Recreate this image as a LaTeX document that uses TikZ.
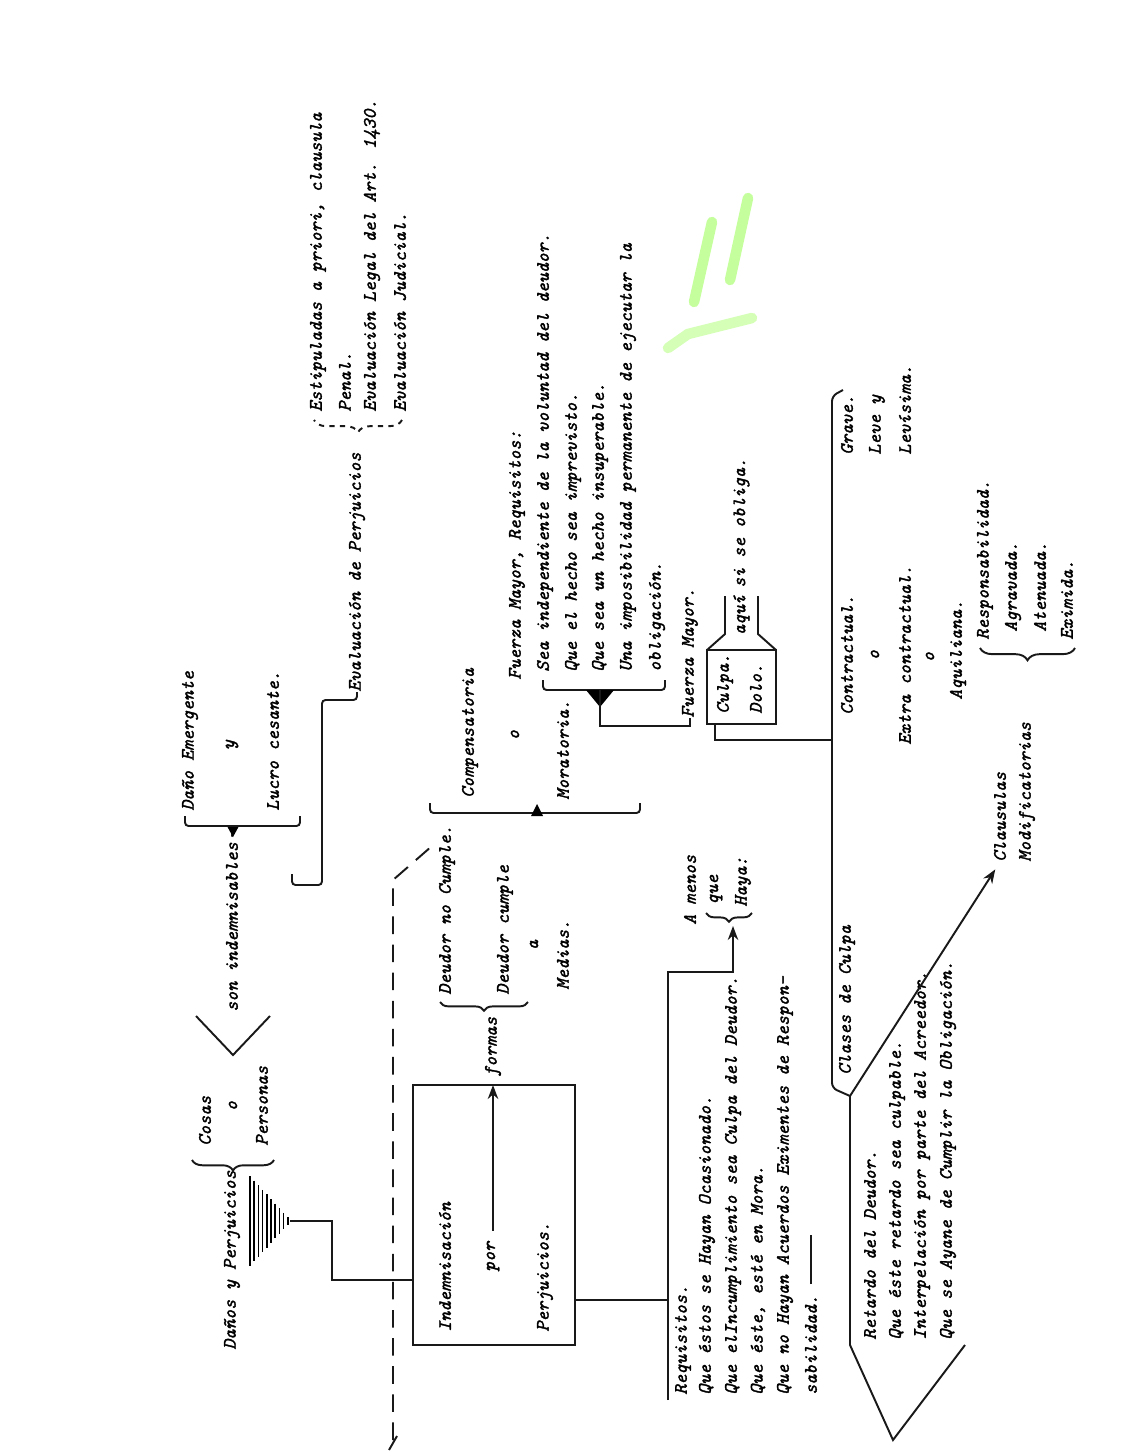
\documentclass[tikz,border=0pt]{standalone}
\usepackage{fontspec}
\newfontfamily\tw{lmmono10-italic.otf}[FakeBold=1.7]
\usetikzlibrary{arrows.meta,decorations.pathreplacing}
\tikzset{>=Stealth}
\tikzset{
  txt/.style={rotate=90,anchor=west,inner sep=0pt,text=black,
    font=\tw\fontsize{10.8}{13}\selectfont},
  mid/.style={txt,anchor=center},
  ln/.style={line width=1.1pt,black!90},
  brc/.style={ln,decorate,decoration={brace,amplitude=#1}},
  brc/.default=6pt,
  hilite/.style={line width=6pt,line cap=round,green!45!lime!70!white,opacity=.55}
}
\begin{document}
\begin{tikzpicture}[x=0.02cm,y=-0.02cm]
\useasboundingbox (0,0) rectangle (1137,1454);

% Danos y perjuicios
\node[txt] (dyp) at (232,1350) {Daños y Perjuicios};
\foreach \i in {0,...,9}
  \draw[line width=.9pt] (250+4.2*\i,1176+4.6*\i) -- (250+4.2*\i,1266-4.6*\i);
\coordinate (dtip) at (290,1221);
\draw[brc] (274,1160) -- (192,1160);
\node[txt] (cosas) at (205,1146) {Cosas};
\node[mid] (o1) at (233,1106) {o};
\node[txt] (personas) at (262,1146) {Personas};
\draw[ln] (196,1016) -- (233,1055) -- (270,1016);
\node[txt] (sonind) at (232,1012) {son indemnisables};
\draw[ln] ([yshift=3pt]sonind.east) -- (233,826);
\fill (227,826) -- (239,826) -- (233,837) -- cycle;
\draw[ln,rounded corners=2pt] (185,816) -- (185,826) -- (300,826) -- (300,816);
\node[txt] (danoem) at (190,811) {Daño Emergente};
\node[mid] (y1) at (232,745) {y};
\node[txt] (lucro) at (273,811) {Lucro cesante.};

% evaluacion
\node[txt] (evalp) at (357,692) {Evaluación de Perjuicios};
\draw[ln,rounded corners=2pt] (292,874) -- (292,885) -- (322,885) -- (322,700) -- (357,700) -- (evalp.west);
\draw[brc=7pt,dash pattern=on 3pt off 3pt] (402,420) -- (314,420);
\node[txt] (estip) at (318,412) {Estipuladas a priori, clausula};
\node[txt] (penal) at (345,412) {Penal.};
\node[txt] (evleg) at (372,412) {Evaluación Legal del Art. 1430.};
\node[txt] (evjud) at (400,412) {Evaluación Judicial.};

\draw[ln,dash pattern=on 10pt off 6pt] (393,1440) -- (393,880) -- (432,846);
\draw[ln] (389,1450) -- (397,1436);

% indemnisacion
\draw[ln] (413,1085) rectangle (575,1345);
\node[txt] (indem) at (445,1332) {Indemnisación};
\node[txt] (por) at (493,1272) {por};
\node[txt] (perj) at (545,1332) {Perjuicios.};
\node[txt] (formas) at (493,1077) {formas};
\draw[ln,->] ([yshift=6pt]por.east) -- (493,1085);
\draw[ln] (dtip) -- (332,1221) -- (332,1280) -- (413,1280);

\draw[brc=5pt] (528,1002) -- (440,1002);
\node[txt] (dnc) at (447,995) {Deudor no Cumple.};
\node[txt] (dc) at (505,995) {Deudor cumple};
\node[mid] (a1) at (534,945) {a};
\node[txt] (medias) at (563,990) {Medias.};

\draw[ln,rounded corners=2pt] (430,803) -- (430,813) -- (640,813) -- (640,803);
\fill (531,816) -- (543,816) -- (537,804) -- cycle;
\node[txt] (compens) at (470,798) {Compensatoria};
\node[mid] (o2) at (515,735) {o};
\node[txt] (morat) at (563,800) {Moratoria.};

% fuerza mayor
\node[txt] (fmreq) at (517,680) {Fuerza Mayor, Requisitos:};
\draw[ln,rounded corners=2pt] (543,680) -- (543,690) -- (665,690) -- (665,680);
\fill (586,690) -- (614,690) -- (600,707) -- cycle;
\node[txt] (fm1) at (545,672) {Sea independiente de la voluntad del deudor.};
\node[txt] (fm2) at (573,672) {Que el hecho sea imprevisto.};
\node[txt] (fm3) at (600,672) {Que sea un hecho insuperable.};
\node[txt] (fm4) at (628,672) {Una imposibilidad permanente de ejecutar la};
\node[txt] (fm5) at (657,672) {obligación.};
\node[txt] (fm) at (690,718) {Fuerza Mayor.};
\draw[ln] (600,690) -- (600,726) -- (690,726) -- (fm.west);

% requisitos
\node[txt] (req) at (683,1395) {Requisitos.};
\node[txt] (req1) at (707,1395) {Que éstos se Hayan Ocasionado.};
\node[txt] (req2) at (733,1395) {Que elIncumplimiento sea Culpa del Deudor.};
\node[txt] (req3) at (758,1395) {Que éste, esté en Mora.};
\node[txt] (req4) at (785,1395) {Que no Hayan Acuerdos Eximentes de Respon-};
\node[txt] (req5) at (811,1395) {sabilidad.};
\draw[ln] (575,1300) -- (668,1300);
\draw[ln,->] (668,1400) -- (668,972) -- (733,972) -- (733,926);
\draw[ln] ([yshift=6pt]req5.east) -- (811,1235);

\node[txt] (amenos) at (690,925) {A menos};
\draw[brc=5pt] (752,913) -- (706,913);
\node[txt] (que) at (716,905) {que};
\node[txt] (haya) at (743,907) {Haya:};

% culpa y dolo
\draw[ln] (707,650) rectangle (776,724);
\node[txt] (culpa) at (725,714) {Culpa.};
\node[txt] (dolo) at (756,714) {Dolo.};
\draw[ln] (707,650) -- (725,634) -- (725,596);
\draw[ln] (776,650) -- (758,634) -- (758,596);
\node[mid] (aqui) at (741.5,615) {aquí};
\node[txt] (oblig) at (741.5,588) {si se obliga.};
\draw[ln] (715,724) -- (715,740) -- (832,740);

% clases de culpa
\draw[ln,rounded corners=3pt] (843,390) -- (832,396) -- (832,1088) -- (850,1096);
\coordinate (J) at (850,1096);
\node[txt] (clases) at (847,1075) {Clases de Culpa};
\node[txt] (contr) at (847,715) {Contractual.};
\node[mid] (o3) at (875,655) {o};
\node[txt] (extra) at (905,745) {Extra contractual.};
\node[mid] (o4) at (930,657) {o};
\node[txt] (aquil) at (958,700) {Aquiliana.};
\node[txt] (grave) at (847,455) {Grave.};
\node[txt] (leve) at (877,455) {Leve y};
\node[txt] (levis) at (905,455) {Levísima.};

% mora
\draw[ln] (J) -- (850,1345) -- (893,1440) -- (965,1345);
\node[txt] (ret1) at (870,1340) {Retardo del Deudor.};
\node[txt] (ret2) at (897,1340) {Que éste retardo sea culpable.};
\node[txt] (ret3) at (922,1340) {Interpelación por parte del Acreedor.};
\node[txt] (ret4) at (948,1340) {Que se Ayane de Cumplir la Obligación.};

% clausulas
\node[txt] (claus) at (1000,862) {Clausulas};
\node[txt] (modif) at (1027,862) {Modificatorias};
\draw[ln,->,shorten >=5pt] (J) -- (claus.west);
\draw[brc=7pt] (1075,648) -- (980,648);
\node[txt] (resp) at (985,640) {Responsabilidad.};
\node[txt] (agrav) at (1013,632) {Agravada.};
\node[txt] (aten) at (1040,632) {Atenuada.};
\node[txt] (exim) at (1067,640) {Eximida.};

\draw[hilite] (694,302) -- (712,222);
\draw[hilite] (730,280) -- (748,198);
\draw[hilite,opacity=.4] (668,348) -- (688,334) -- (752,318);
\end{tikzpicture}
\end{document}
